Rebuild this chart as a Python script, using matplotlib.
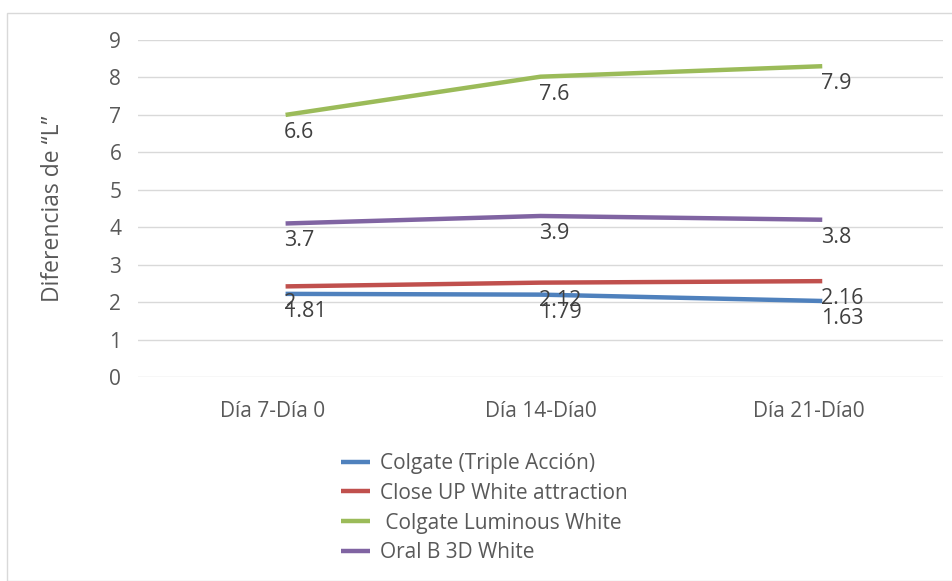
import matplotlib.pyplot as plt
from matplotlib.patches import Rectangle

plt.rcParams['font.family'] = ['Open Sans', 'DejaVu Sans']

categories = ["Día 7-Día 0", "Día 14-Día0", "Día 21-Día0"]
series_names = ["Colgate (Triple Acción)", "Close UP White attraction",
                " Colgate Luminous White", "Oral B 3D White"]
# line heights as drawn in the chart
colgate_triple = [2.22, 2.2, 2.03]
close_up = [2.42, 2.52, 2.56]
colgate_lum = [7.0, 8.02, 8.3]
oral_b = [4.1, 4.3, 4.2]
# data label texts shown under each point
colgate_triple_lbl = ["1.81", "1.79", "1.63"]
close_up_lbl = ["2", "2.12", "2.16"]
colgate_lum_lbl = ["6.6", "7.6", "7.9"]
oral_b_lbl = ["3.7", "3.9", "3.8"]

colors = ["#4F81BD", "#C0504D", "#9BBB59", "#8064A2"]
values = [colgate_triple, close_up, colgate_lum, oral_b]
labels = [colgate_triple_lbl, close_up_lbl, colgate_lum_lbl, oral_b_lbl]

fig = plt.figure(figsize=(9.53, 5.81), dpi=100)
fig.patches.append(Rectangle((7 / 953, 0), 1, 1 - 13 / 581, transform=fig.transFigure,
                             fill=False, edgecolor="#d9d9d9", lw=1))
ax = fig.add_axes([138 / 953, 1 - 377 / 581, 805 / 953, 337 / 581])

x = [0.05, 1.0, 2.05]
for name, vals, lbls, c in zip(series_names, values, labels, colors):
    ax.plot(x, vals, color=c, lw=3.2, label=name, solid_capstyle="butt")
    for xi, v, t in zip(x, vals, lbls):
        ax.annotate(t, (xi, v), xytext=(-1, -5), textcoords="offset points",
                    ha="left", va="top", fontsize=15.5, color="#404040")

ax.set_xlim(-0.5, 2.5)
ax.set_ylim(0, 9)
ax.set_yticks(range(10))
ax.set_xticks(range(3))
ax.set_xticklabels(categories)
ax.grid(axis="y", color="#d9d9d9", lw=1)
ax.set_axisbelow(True)
for s in ax.spines.values():
    s.set_visible(False)
ax.tick_params(axis="both", length=0, colors="#595959", labelsize=15)
ax.tick_params(axis="y", pad=12)
ax.tick_params(axis="x", pad=17)
ax.set_ylabel("Diferencias de “L”", fontsize=16.5, color="#595959", labelpad=32)

ax.legend(loc="upper left", bbox_to_anchor=(341 / 953, 1 - 453 / 581), bbox_transform=fig.transFigure,
          frameon=False, fontsize=15, labelcolor="#595959", handlelength=1.4,
          handletextpad=0.45, labelspacing=0.42, borderpad=0, borderaxespad=0)

fig.savefig("out.png", dpi=100)
